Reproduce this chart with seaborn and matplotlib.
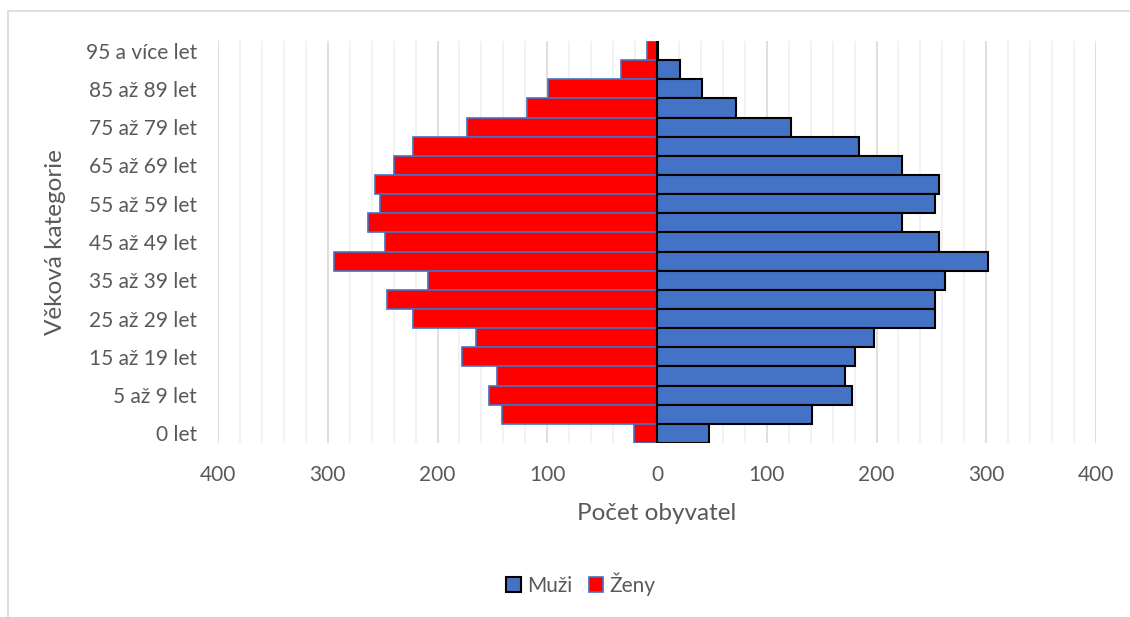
import pandas as pd
import seaborn as sns
import matplotlib.pyplot as plt
from matplotlib.patches import Rectangle, Patch
from matplotlib.ticker import MultipleLocator, FuncFormatter

# Data - vekove kategorie od nejmladsi
kategorie = ['0 let', '1 až 4 let', '5 až 9 let', '10 až 14 let', '15 až 19 let',
             '20 až 24 let', '25 až 29 let', '30 až 34 let', '35 až 39 let',
             '40 až 44 let', '45 až 49 let', '50 až 54 let', '55 až 59 let',
             '60 až 64 let', '65 až 69 let', '70 až 74 let', '75 až 79 let',
             '80 až 84 let', '85 až 89 let', '90 až 94 let', '95 a více let']
muzi = [47, 141, 178, 171, 180, 198, 253, 253, 262, 302, 257, 223, 253,
        257, 223, 184, 122, 72, 41, 21, 1]
zeny = [21, 141, 153, 146, 178, 165, 222, 246, 209, 294, 248, 263, 252,
        257, 240, 222, 173, 118, 99, 33, 9]

df = pd.DataFrame({'kategorie': kategorie, 'Muži': muzi,
                   'Ženy': [-z for z in zeny]})
poradi = kategorie[::-1]

sns.set_style('white')
plt.rcParams['font.family'] = ['Lato', 'DejaVu Sans']
seda = '#595959'

fig = plt.figure(figsize=(11.3, 6.17), dpi=100)
fig.patches.append(Rectangle((8 / 1130, -0.1), 1.2, (617 - 11) / 617 + 0.1,
                             transform=fig.transFigure, fill=False,
                             edgecolor='#d9d9d9', linewidth=1.2))
ax = fig.add_axes([218 / 1130, 1 - 443 / 617, 878 / 1130, 402 / 617])

sns.barplot(data=df, y='kategorie', x='Ženy', order=poradi, width=1.0,
            color='#ff0000', saturation=1, edgecolor='#4472c4', linewidth=1.2, ax=ax)
sns.barplot(data=df, y='kategorie', x='Muži', order=poradi, width=1.0,
            color='#4472c4', saturation=1, edgecolor='#000000', linewidth=1.5, ax=ax)

ax.set_xlim(-400, 400)
ax.xaxis.set_major_locator(MultipleLocator(100))
ax.xaxis.set_minor_locator(MultipleLocator(20))
ax.xaxis.set_major_formatter(FuncFormatter(lambda v, p: f'{abs(v):.0f}'))
ax.grid(axis='x', which='major', color='#d9d9d9', linewidth=1.2)
ax.grid(axis='x', which='minor', color='#f0f0f0', linewidth=1.2)
ax.set_axisbelow(True)
ax.axvline(0, color='#d9d9d9', linewidth=1.2, zorder=0.5)

popisky = [k if i % 2 == 0 else '' for i, k in enumerate(poradi[::-1])][::-1]
ax.set_yticks(range(len(poradi)))
ax.set_yticklabels(popisky)
ax.tick_params(axis='both', which='both', length=0, labelsize=15, colors=seda)
ax.tick_params(axis='y', pad=15)
ax.tick_params(axis='x', pad=16)
for s in ax.spines.values():
    s.set_visible(False)

ax.set_xlabel('Počet obyvatel', fontsize=17.5, color=seda)
ax.set_ylabel('Věková kategorie', fontsize=17.5, color=seda)
ax.xaxis.set_label_coords(0.5, (443 - 514) / 402)
ax.yaxis.set_label_coords((55 - 218) / 878, 0.5)
ax.xaxis.label.set_va('center')
ax.yaxis.label.set_va('center')

handles = [Patch(facecolor='#4472c4', edgecolor='#000000', linewidth=1.5, label='Muži'),
           Patch(facecolor='#ff0000', edgecolor='#4472c4', linewidth=1.2, label='Ženy')]
fig.legend(handles=handles, loc='center', bbox_to_anchor=(581 / 1130, 1 - 584 / 617),
           ncol=2, frameon=False, fontsize=15, handlelength=0.7, handleheight=0.7,
           handletextpad=0.3, columnspacing=0.8, labelcolor=seda)

plt.savefig('out.png', dpi=100)
